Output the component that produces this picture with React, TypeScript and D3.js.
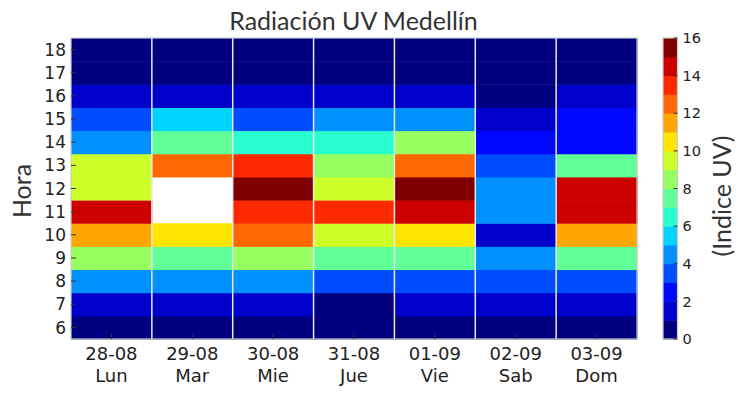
import React from "react";
import * as d3 from "d3";

const days = ["28-08", "29-08", "30-08", "31-08", "01-09", "02-09", "03-09"];
const dayNames = ["Lun", "Mar", "Mie", "Jue", "Vie", "Sab", "Dom"];
const hours = [6, 7, 8, 9, 10, 11, 12, 13, 14, 15, 16, 17, 18];

// UV index per day, hours 6..18 (null = no data)
const uvLun = [0.5, 1.5, 4.5, 8.5, 11.5, 14.5, 9.5, 9.5, 4.5, 3.5, 1.5, 0.5, 0.5];
const uvMar = [0.5, 1.5, 4.5, 7.5, 10.5, null, null, 12.5, 7.5, 5.5, 1.5, 0.5, 0.5];
const uvMie = [0.5, 1.5, 4.5, 8.5, 12.5, 13.5, 15.5, 13.5, 6.5, 3.5, 1.5, 0.5, 0.5];
const uvJue = [0.5, 0.5, 3.5, 7.5, 9.5, 13.5, 9.5, 8.5, 6.5, 4.5, 1.5, 0.5, 0.5];
const uvVie = [0.5, 1.5, 3.5, 7.5, 10.5, 14.5, 15.5, 12.5, 8.5, 4.5, 1.5, 0.5, 0.5];
const uvSab = [0.5, 1.5, 3.5, 4.5, 1.5, 4.5, 4.5, 3.5, 2.5, 1.5, 0.5, 0.5, 0.5];
const uvDom = [0.5, 1.5, 3.5, 7.5, 11.5, 14.5, 14.5, 7.5, 2.5, 2.5, 1.5, 0.5, 0.5];
const series = [uvLun, uvMar, uvMie, uvJue, uvVie, uvSab, uvDom];

const levels = d3.range(0, 17, 1);
const cbTicks = [0, 2, 4, 6, 8, 10, 12, 14, 16];

function interp(pts: number[][], t: number) {
  for (let i = 1; i < pts.length; i++) {
    if (t <= pts[i][0]) {
      const [x0, y0] = pts[i - 1];
      const [x1, y1] = pts[i];
      return y0 + ((y1 - y0) * (t - x0)) / (x1 - x0);
    }
  }
  return pts[pts.length - 1][1];
}
function jet(t: number) {
  const r = interp([[0, 0], [0.35, 0], [0.66, 1], [0.89, 1], [1, 0.5]], t);
  const g = interp([[0, 0], [0.125, 0], [0.375, 1], [0.64, 1], [0.91, 0], [1, 0]], t);
  const b = interp([[0, 0.5], [0.11, 1], [0.34, 1], [0.65, 0], [1, 0]], t);
  return d3.rgb(r * 255, g * 255, b * 255).formatHex();
}
const nBins = levels.length - 1;
const binColors = d3.range(nBins).map((i) => jet(i / (nBins - 1)));
const colorScale = d3
  .scaleThreshold<number, string>()
  .domain(levels.slice(1, -1))
  .range(binColors);

export default function App() {
  const W = 743, H = 395;
  const left = 71, right = 637, top = 38, bottom = 339;
  const x = d3.scaleBand<number>().domain(d3.range(days.length)).range([left, right]).padding(0);
  const y = d3.scaleBand<number>().domain(hours).range([bottom, top]).padding(0);
  const cbX = 663, cbW = 14.5;
  const cy = d3.scaleLinear().domain([0, 16]).range([bottom, top]);
  const titleStyle = { fontFamily: "Lato, 'Open Sans', sans-serif" };
  const tickStyle = { fontFamily: "'DejaVu Sans', sans-serif" };

  return (
    <svg width={W} height={H} style={{ position: "absolute", left: 0, top: 0, background: "#fff" }}>
      <text x={353.5} y={30} textAnchor="middle" style={titleStyle} fontSize={25} fill="#333">
        Radiación UV Medellín
      </text>
      {series.map((vals, di) =>
        vals.map((v, hi) =>
          v === null ? null : (
            <rect
              key={`${di}-${hi}`}
              x={x(di)!}
              y={y(hours[hi])!}
              width={x.bandwidth() + 0.5}
              height={y.bandwidth() + 0.5}
              fill={colorScale(v)}
            />
          )
        )
      )}
      {d3.range(1, days.length).map((i) => (
        <line key={i} x1={x(i)!} x2={x(i)!} y1={top} y2={bottom} stroke="#e8e8e8" strokeWidth={1.5} />
      ))}
      <rect x={left} y={top} width={right - left} height={bottom - top} fill="none" stroke="#cccccc" strokeWidth={1.2} />
      {hours.map((h) => {
        const yy = y(h)! + y.bandwidth() / 2;
        return (
          <g key={h}>
            <line x1={left} x2={left + 5} y1={yy} y2={yy} stroke="#333" strokeWidth={1} />
            <text x={left - 5} y={yy} dy="0.36em" textAnchor="end" style={tickStyle} fontSize={17} fill="#222">
              {h}
            </text>
          </g>
        );
      })}
      {days.map((d, i) => {
        const xx = x(i)! + x.bandwidth() / 2;
        return (
          <g key={d}>
            <line x1={xx} x2={xx} y1={bottom} y2={bottom - 5} stroke="#333" strokeWidth={1} />
            <text x={xx} y={360} textAnchor="middle" style={tickStyle} fontSize={18} fill="#222">
              {d}
            </text>
            <text x={xx} y={382} textAnchor="middle" style={tickStyle} fontSize={18} fill="#222">
              {dayNames[i]}
            </text>
          </g>
        );
      })}
      <text
        transform={`translate(31,191) rotate(-90)`}
        textAnchor="middle"
        style={titleStyle}
        fontSize={25}
        fill="#333"
      >
        Hora
      </text>
      {binColors.map((c, i) => (
        <rect key={i} x={cbX} y={cy(levels[i + 1])} width={cbW} height={cy(levels[i]) - cy(levels[i + 1]) + 0.5} fill={c} />
      ))}
      <rect x={cbX} y={top} width={cbW} height={bottom - top} fill="none" stroke="#cccccc" strokeWidth={1.2} />
      {cbTicks.map((t) => (
        <g key={t}>
          <line x1={cbX + cbW - 4} x2={cbX + cbW} y1={cy(t)} y2={cy(t)} stroke="#333" strokeWidth={1} />
          <text x={cbX + cbW + 5} y={cy(t)} dy="0.36em" style={tickStyle} fontSize={14.5} fill="#222">
            {t}
          </text>
        </g>
      ))}
      <text
        transform={`translate(731,196) rotate(-90)`}
        textAnchor="middle"
        style={titleStyle}
        fontSize={25}
        fill="#333"
      >
        (Indice UV)
      </text>
    </svg>
  );
}
